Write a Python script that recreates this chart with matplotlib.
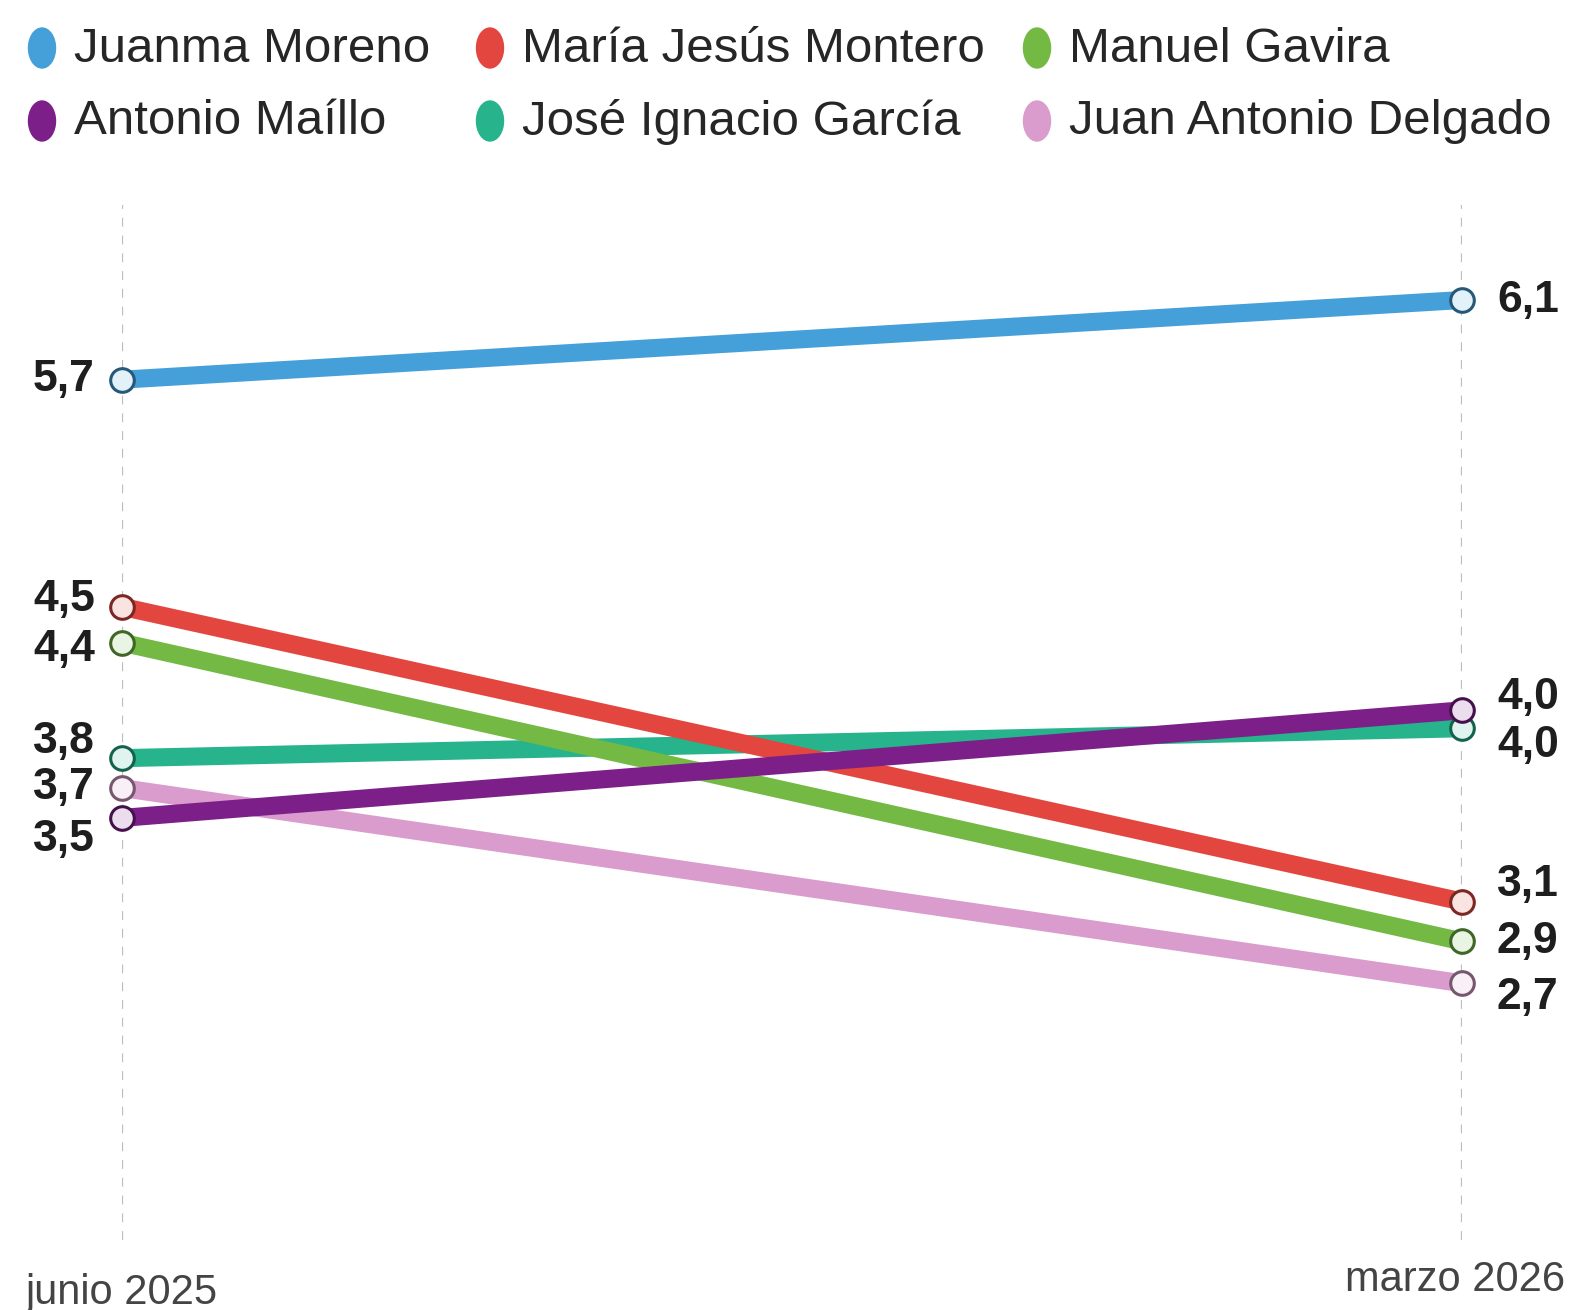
import matplotlib
matplotlib.use("Agg")
import matplotlib.pyplot as plt
from matplotlib.patches import Ellipse
from matplotlib.colors import to_rgb

plt.rcParams['font.family'] = ['Liberation Sans', 'DejaVu Sans']

# ---------------- data ----------------
periods = ["junio 2025", "marzo 2026"]
names = ["Juanma Moreno", "María Jesús Montero", "Manuel Gavira",
         "Antonio Maíllo", "José Ignacio García", "Juan Antonio Delgado"]
start_vals = [5.70, 4.56, 4.38, 3.50, 3.80, 3.65]
end_vals = [6.10, 3.08, 2.88, 4.04, 3.95, 2.67]
start_labels = ["5,7", "4,5", "4,4", "3,5", "3,8", "3,7"]
end_labels = ["6,1", "3,1", "2,9", "4,0", "4,0", "2,7"]
colors = ["#45A0DA", "#E2463F", "#74B944", "#7C1F88", "#27B38B", "#D99CCC"]

# label nudges (pixels, vertical) to avoid overlap
start_dy = [0, 7, -7, -22, 17, 1]
end_dy = [0, 17, 0, 13, -17, -14]
draw_order = [5, 4, 2, 1, 3, 0]

# ---------------- figure ----------------
W, H = 1569, 1310
fig = plt.figure(figsize=(W / 100, H / 100), dpi=100)
fig.patch.set_facecolor("white")

ax = fig.add_axes([122 / W, 70 / H, 1340 / W, 1035 / H])
ax.set_xlim(0, 1)
ax.set_ylim(1.381, 6.577)
ax.axis("off")

for xv in (0, 1):
    ax.axvline(xv, color="#bdbdbd", lw=1.6, ls=(0, (4, 4)), zorder=0)


def darken(c, f=0.6):
    r, g, b = to_rgb(c)
    return (r * f, g * f, b * f)


def lighten(c, f=0.85):
    r, g, b = to_rgb(c)
    return (r + (1 - r) * f, g + (1 - g) * f, b + (1 - b) * f)


for z, i in enumerate(draw_order):
    c = colors[i]
    ax.plot([0, 1], [start_vals[i], end_vals[i]], color=c, lw=13,
            solid_capstyle="butt", zorder=2 + z, clip_on=False)
    ax.plot([0, 1], [start_vals[i], end_vals[i]], ls="none", marker="o",
            ms=17, mfc=lighten(c), mec=darken(c, 0.55), mew=2.2,
            zorder=20 + z, clip_on=False)

for i in range(len(names)):
    ax.annotate(start_labels[i], (0, start_vals[i]), xytext=(-27, start_dy[i]),
                textcoords="offset pixels", ha="right", va="center",
                fontsize=32, fontweight="bold", color="#1e1e1e")
    ax.annotate(end_labels[i], (1, end_vals[i]), xytext=(35, end_dy[i]),
                textcoords="offset pixels", ha="left", va="center",
                fontsize=32, fontweight="bold", color="#1e1e1e")

# period labels
fig.text(25 / W, 1 - 1293 / H, periods[0], ha="left", va="center",
         fontsize=30, color="#444444")
fig.text(1565 / W, 1 - 1280 / H, periods[1], ha="right", va="center",
         fontsize=30, color="#444444")

# legend
col_x = [42, 490, 1037]
row_y = [48, 121]
for i, name in enumerate(names):
    cx = col_x[i % 3]
    cy = row_y[i // 3]
    fig.patches.append(Ellipse((cx / W, 1 - cy / H), 27 / W, 40 / H,
                               transform=fig.transFigure, color=colors[i]))
    fig.text((cx + 32) / W, 1 - (cy + 1) / H, name, ha="left", va="center",
             fontsize=35.5, color="#262626")

fig.savefig("out.png", dpi=100, facecolor="white")
